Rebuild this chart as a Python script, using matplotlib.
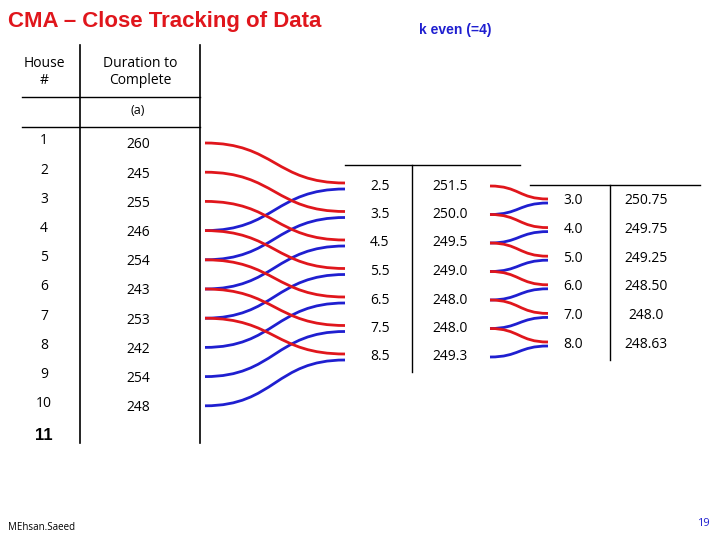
import matplotlib
matplotlib.use("Agg")
import matplotlib.pyplot as plt
from matplotlib.path import Path
from matplotlib.patches import PathPatch

plt.rcParams['font.family'] = ['Open Sans', 'DejaVu Sans']

houses = ['1', '2', '3', '4', '5', '6', '7', '8', '9', '10']
durations = ['260', '245', '255', '246', '254', '243', '253', '242', '254', '248']
ma_pos = ['2.5', '3.5', '4.5', '5.5', '6.5', '7.5', '8.5']
ma_vals = ['251.5', '250.0', '249.5', '249.0', '248.0', '248.0', '249.3']
cma_pos = ['3.0', '4.0', '5.0', '6.0', '7.0', '8.0']
cma_vals = ['250.75', '249.75', '249.25', '248.50', '248.0', '248.63']

fig = plt.figure(figsize=(7.2, 5.4), dpi=100)
ax = fig.add_axes([0, 0, 1, 1])
ax.set_xlim(0, 720); ax.set_ylim(540, 0); ax.axis('off')

RED, BLUE = '#e0161c', '#1f1fd0'
BOLD = ['Liberation Sans', 'DejaVu Sans']
def scurve(x0, y0, x1, y1, c):
    xm = (x0 + x1) / 2
    p = Path([(x0, y0), (xm, y0), (xm, y1), (x1, y1)],
             [Path.MOVETO, Path.CURVE4, Path.CURVE4, Path.CURVE4])
    ax.add_patch(PathPatch(p, fc='none', ec=c, lw=2))

ax.text(8, 21, 'CMA – Close Tracking of Data', color=RED, fontsize=16, fontweight='bold',
        va='center', family=BOLD)
ax.text(455, 30, 'k even (=4)', color=BLUE, fontsize=10, fontweight='bold', va='center',
        ha='center', family=BOLD)
ax.text(44, 72, 'House\n#', ha='center', va='center', fontsize=10)
ax.text(140, 72, 'Duration to\nComplete', ha='center', va='center', fontsize=10)
ax.text(138, 111, '(a)', ha='center', va='center', fontsize=9)
ax.plot([22, 200], [97, 97], color='k', lw=1)
ax.plot([22, 200], [127, 127], color='k', lw=1)
ax.plot([80, 80], [45, 443], color='k', lw=1.2)
ax.plot([200, 200], [45, 443], color='k', lw=1.2)

r1 = lambda i: 143 + 29.2 * i
for i, (h, d) in enumerate(zip(houses, durations)):
    ax.text(44, r1(i) - 2, h, ha='center', va='center', fontsize=10)
    ax.text(138, r1(i) + 2, d, ha='center', va='center', fontsize=10)
ax.text(44, r1(10), '11', ha='center', va='center', fontsize=12, fontweight='bold', family=BOLD)

r2 = lambda j: 186 + 28.5 * j
ax.plot([345, 520], [165, 165], color='k', lw=1)
ax.plot([412, 412], [165, 372], color='k', lw=1)
for j, (p, v) in enumerate(zip(ma_pos, ma_vals)):
    ax.text(380, r2(j), p, ha='center', va='center', fontsize=10)
    ax.text(450, r2(j), v, ha='center', va='center', fontsize=10)
    scurve(205, r1(j), 345, r2(j) - 3, RED)
    scurve(205, r1(j + 3), 345, r2(j) + 3, BLUE)

r3 = lambda k: 201 + 28.6 * k
ax.plot([530, 700], [185, 185], color='k', lw=1)
ax.plot([610, 610], [185, 360], color='k', lw=1)
for k, (p, v) in enumerate(zip(cma_pos, cma_vals)):
    ax.text(573, r3(k), p, ha='center', va='center', fontsize=10)
    ax.text(646, r3(k), v, ha='center', va='center', fontsize=10)
    scurve(490, r2(k), 548, r3(k) - 2, RED)
    scurve(490, r2(k + 1), 548, r3(k) + 2, BLUE)

ax.text(8, 527, 'MEhsan.Saeed', fontsize=7, va='center')
ax.text(710, 524, '19', fontsize=8, color=BLUE, ha='right', va='center')

fig.savefig('out.png', dpi=100)
